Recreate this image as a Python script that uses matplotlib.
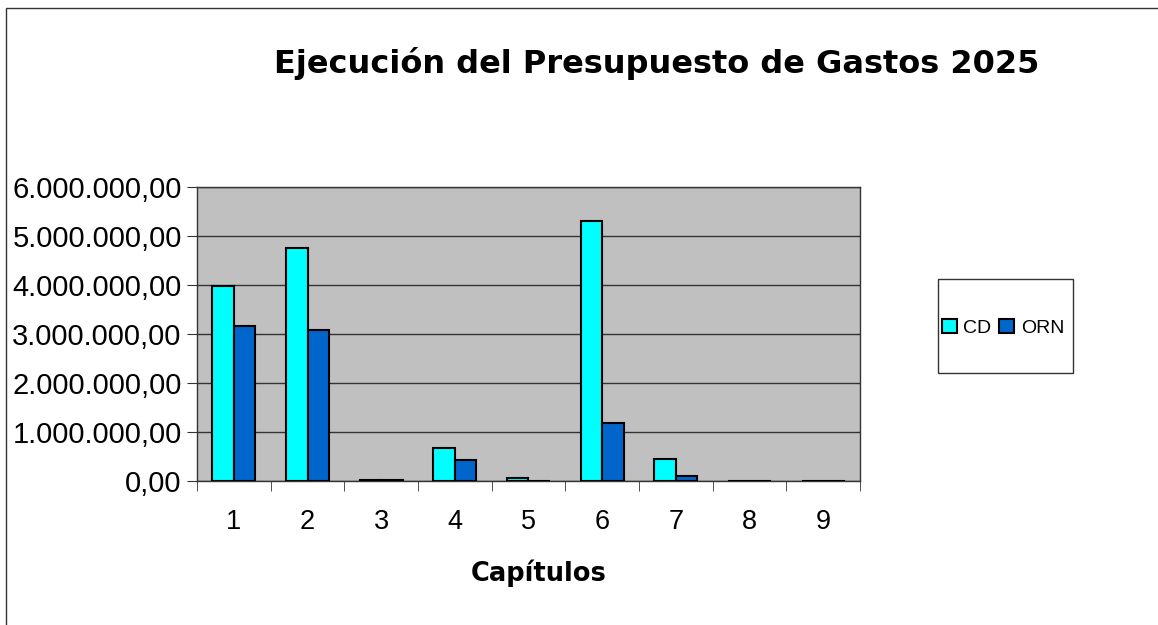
import numpy as np
import matplotlib.pyplot as plt
from matplotlib.patches import Rectangle
from matplotlib.ticker import FuncFormatter, MultipleLocator

capitulos = ['1', '2', '3', '4', '5', '6', '7', '8', '9']
cd = [3980000, 4750000, 30000, 670000, 70000, 5300000, 450000, 8000, 5000]
orn = [3170000, 3080000, 20000, 430000, 10000, 1180000, 100000, 5000, 3000]

def fmt_es(v, pos):
    s = f'{v:,.2f}'
    return s.replace(',', 'X').replace('.', ',').replace('X', '.')

fig = plt.figure(figsize=(11.58, 6.25), dpi=100)
ax = fig.add_axes([197/1158, 1-481/625, 663/1158, 294/625])

x = np.arange(len(capitulos))
w = 0.29
ax.bar(x - w/2, cd, w, color='#00ffff', edgecolor='black', linewidth=1.5, label='CD', zorder=3)
ax.bar(x + w/2, orn, w, color='#0066cc', edgecolor='black', linewidth=1.5, label='ORN', zorder=3)

ax.set_facecolor('#c0c0c0')
ax.set_xlim(-0.5, len(capitulos) - 0.5)
ax.set_ylim(0, 6000000)
ax.yaxis.set_major_locator(MultipleLocator(1000000))
ax.yaxis.set_major_formatter(FuncFormatter(fmt_es))
ax.grid(axis='y', color='#333333', linewidth=1, zorder=1)
for s in ax.spines.values():
    s.set_color('#333333')
    s.set_linewidth(1)

ax.set_xticks(x)
ax.set_xticklabels(capitulos, family='Liberation Sans', fontsize=19.5)
ax.set_xticks(np.arange(-0.5, len(capitulos)), minor=True)
ax.tick_params(axis='x', which='major', length=0, pad=20)
ax.tick_params(axis='x', which='minor', length=7, color='#333333')
ax.tick_params(axis='y', length=7, pad=4, color='#333333')
for t in ax.get_yticklabels():
    t.set_family('Liberation Sans')
    t.set_fontsize(21)

ax.set_xlabel('Capítulos', fontsize=18.5, fontweight='bold')
ax.xaxis.set_label_coords((539 - 197) / 663, -(573 - 481) / 294)
ax.xaxis.label.set_va('center')

fig.text(657/1158, 1-64/625, 'Ejecución del Presupuesto de Gastos 2025',
         ha='center', va='center', fontsize=23, fontweight='bold')

# outer frame
fig.patches.append(Rectangle((6/1158, -0.1), 1.2, 1.1 - 8/625, transform=fig.transFigure,
                             fill=False, edgecolor='#333333', linewidth=1))
# legend box
fig.patches.append(Rectangle((938/1158, 1-373/625), 135/1158, 94/625, transform=fig.transFigure,
                             fill=False, edgecolor='#333333', linewidth=1))
fig.legend(loc='center', bbox_to_anchor=(1003/1158, 1-328/625), ncol=2, frameon=False,
           prop={'family': 'Liberation Sans', 'size': 14}, handlelength=0.75, handleheight=0.75,
           handletextpad=0.35, columnspacing=0.4)

fig.savefig('out.png', dpi=100)
